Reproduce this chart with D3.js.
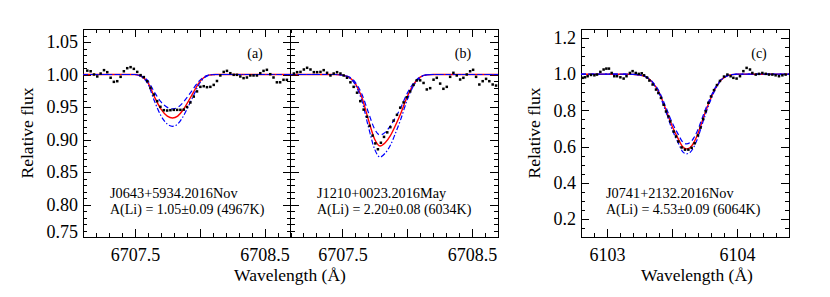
<!DOCTYPE html>
<html>
<head>
<meta charset="utf-8">
<script src="https://cdn.jsdelivr.net/npm/d3@7"></script>
<style>
  html, body { margin: 0; padding: 0; background: #fff; }
  svg { display: block; }
</style>
</head>
<body>
<div id="chart"></div>
<script>
// observed spectra [wavelength, flux]
var dotsA = [
  [6707.133, 1.006], [6707.159, 1.005], [6707.185, 1.000], [6707.210, 0.997], [6707.236, 1.0015],
  [6707.262, 1.0067], [6707.287, 1.0036], [6707.313, 0.995], [6707.338, 0.9887], [6707.364, 0.9897],
  [6707.390, 0.9964], [6707.415, 1.005], [6707.441, 1.0097], [6707.467, 1.0113], [6707.492, 1.0087],
  [6707.518, 1.004], [6707.544, 0.999], [6707.569, 0.996], [6707.595, 0.9897], [6707.620, 0.9795],
  [6707.646, 0.9692], [6707.672, 0.959], [6707.697, 0.9503], [6707.723, 0.9451], [6707.749, 0.9446],
  [6707.774, 0.9451], [6707.800, 0.9456], [6707.826, 0.9456], [6707.851, 0.9456], [6707.877, 0.946],
  [6707.902, 0.950], [6707.928, 0.957], [6707.954, 0.966], [6707.979, 0.974], [6708.005, 0.981],
  [6708.031, 0.982], [6708.056, 0.9805], [6708.082, 0.981], [6708.108, 0.984], [6708.133, 0.990],
  [6708.159, 0.9985], [6708.185, 1.004], [6708.210, 1.0056], [6708.236, 1.002], [6708.262, 0.9995],
  [6708.287, 0.9995], [6708.313, 0.997], [6708.338, 0.9944], [6708.364, 0.9954], [6708.390, 0.9985],
  [6708.415, 0.9985], [6708.441, 0.9985], [6708.467, 1.002], [6708.492, 1.0056], [6708.518, 1.0072],
  [6708.544, 1.0005], [6708.569, 0.9954], [6708.595, 0.988], [6708.620, 0.988], [6708.646, 0.9918],
  [6708.672, 0.9918]
];
var dotsB = [
  [6707.126, 1.0015], [6707.151, 1.0036], [6707.177, 1.004], [6707.203, 1.0077], [6707.228, 1.0103],
  [6707.254, 1.0077], [6707.280, 1.0036], [6707.305, 1.0036], [6707.331, 1.004], [6707.356, 1.0067],
  [6707.382, 1.0026], [6707.408, 0.9985], [6707.433, 1.0015], [6707.459, 1.0036], [6707.485, 1.0015],
  [6707.510, 0.9985], [6707.536, 0.995], [6707.562, 0.988], [6707.587, 0.981], [6707.613, 0.972],
  [6707.638, 0.959], [6707.664, 0.946], [6707.690, 0.935], [6707.710, 0.921], [6707.733, 0.906],
  [6707.754, 0.894], [6707.774, 0.885], [6707.797, 0.895], [6707.821, 0.904], [6707.846, 0.911],
  [6707.870, 0.919], [6707.895, 0.929], [6707.921, 0.938], [6707.946, 0.949], [6707.972, 0.957],
  [6707.997, 0.965], [6708.023, 0.974], [6708.049, 0.984], [6708.074, 0.991], [6708.100, 0.991],
  [6708.126, 0.987], [6708.151, 0.977], [6708.177, 0.979], [6708.203, 0.992], [6708.228, 0.9949],
  [6708.254, 0.986], [6708.279, 0.978], [6708.305, 0.981], [6708.331, 0.9964], [6708.356, 1.0026],
  [6708.382, 0.9985], [6708.408, 0.9923], [6708.433, 0.9949], [6708.459, 1.000], [6708.485, 1.005],
  [6708.508, 1.0072], [6708.531, 0.9964], [6708.556, 0.9846], [6708.582, 0.9897], [6708.608, 0.9933],
  [6708.633, 0.9897], [6708.659, 0.9846], [6708.685, 0.983]
];
var dotsC = [
  [6102.813, 0.980], [6102.831, 0.983], [6102.851, 0.989], [6102.877, 0.996], [6102.903, 0.994],
  [6102.923, 0.998], [6102.949, 1.013], [6102.974, 1.026], [6102.995, 1.031], [6103.015, 1.031],
  [6103.036, 1.007], [6103.056, 0.989], [6103.077, 0.989], [6103.103, 0.983], [6103.128, 0.976],
  [6103.150, 0.989], [6103.176, 1.007], [6103.197, 1.017], [6103.221, 1.007], [6103.244, 1.002],
  [6103.267, 1.005], [6103.285, 0.994], [6103.308, 0.982], [6103.326, 0.965], [6103.351, 0.943],
  [6103.377, 0.915], [6103.395, 0.896], [6103.415, 0.869], [6103.436, 0.831], [6103.454, 0.794],
  [6103.472, 0.767], [6103.487, 0.739], [6103.513, 0.683], [6103.531, 0.656], [6103.549, 0.628],
  [6103.574, 0.595], [6103.600, 0.583], [6103.626, 0.583], [6103.651, 0.593], [6103.674, 0.618],
  [6103.700, 0.662], [6103.720, 0.705], [6103.740, 0.752], [6103.760, 0.795], [6103.780, 0.842],
  [6103.800, 0.877], [6103.823, 0.912], [6103.846, 0.940], [6103.869, 0.963], [6103.900, 0.987],
  [6103.926, 0.998], [6103.951, 0.989], [6103.972, 0.980], [6103.997, 0.976], [6104.023, 0.989],
  [6104.049, 1.017], [6104.074, 1.035], [6104.100, 1.026], [6104.118, 1.007], [6104.144, 0.998],
  [6104.169, 1.002], [6104.195, 1.007], [6104.221, 1.002], [6104.246, 0.998], [6104.272, 0.998],
  [6104.297, 0.994], [6104.323, 0.989], [6104.349, 0.994], [6104.374, 0.998]
];

// synthetic fits: best (red), deeper (blue dash-dot), shallower (blue dashed)
var fitA = [
  [6707.10, 1.0], [6707.50, 1.0], [6707.55, 0.997], [6707.60, 0.988], [6707.65, 0.966],
  [6707.70, 0.947], [6707.75, 0.936], [6707.79, 0.933], [6707.83, 0.936], [6707.87, 0.945],
  [6707.91, 0.958], [6707.95, 0.972], [6707.99, 0.986], [6708.03, 0.995], [6708.07, 0.999],
  [6708.12, 1.0], [6708.70, 1.0]
];
var fitHighA = [
  [6707.10, 1.0], [6707.50, 1.0], [6707.55, 0.9964], [6707.60, 0.9857], [6707.65, 0.9595],
  [6707.70, 0.9369], [6707.75, 0.9238], [6707.79, 0.9203], [6707.83, 0.9238], [6707.87, 0.9346],
  [6707.91, 0.950], [6707.95, 0.9667], [6707.99, 0.9833], [6708.03, 0.994], [6708.07, 0.9988],
  [6708.12, 1.0], [6708.70, 1.0]
];
var fitLowA = [
  [6707.10, 1.0], [6707.50, 1.0], [6707.55, 0.9976], [6707.60, 0.9905], [6707.65, 0.9731],
  [6707.70, 0.9581], [6707.75, 0.9494], [6707.79, 0.9471], [6707.83, 0.9494], [6707.87, 0.9566],
  [6707.91, 0.9668], [6707.95, 0.9779], [6707.99, 0.9889], [6708.03, 0.996], [6708.07, 0.9992],
  [6708.12, 1.0], [6708.70, 1.0]
];
var fitB = [
  [6707.10, 1.0], [6707.45, 1.0], [6707.50, 0.999], [6707.55, 0.996], [6707.60, 0.986],
  [6707.65, 0.965], [6707.70, 0.931], [6707.75, 0.900], [6707.79, 0.890], [6707.83, 0.895],
  [6707.87, 0.906], [6707.91, 0.922], [6707.95, 0.940], [6708.00, 0.966], [6708.05, 0.985],
  [6708.10, 0.996], [6708.15, 0.9995], [6708.20, 1.0], [6708.70, 1.0]
];
var fitHighB = [
  [6707.10, 1.0], [6707.45, 1.0], [6707.50, 0.999], [6707.55, 0.9954], [6707.60, 0.984],
  [6707.65, 0.960], [6707.70, 0.920], [6707.75, 0.8845], [6707.79, 0.873], [6707.83, 0.879],
  [6707.87, 0.891], [6707.91, 0.910], [6707.95, 0.931], [6708.00, 0.961], [6708.05, 0.983],
  [6708.10, 0.995], [6708.15, 0.9995], [6708.20, 1.0], [6708.70, 1.0]
];
var fitLowB = [
  [6707.10, 1.0], [6707.45, 1.0], [6707.50, 0.999], [6707.55, 0.9966], [6707.60, 0.988],
  [6707.65, 0.970], [6707.70, 0.942], [6707.75, 0.9155], [6707.79, 0.907], [6707.83, 0.911],
  [6707.87, 0.921], [6707.91, 0.934], [6707.95, 0.949], [6708.00, 0.971], [6708.05, 0.987],
  [6708.10, 0.9966], [6708.15, 0.9996], [6708.20, 1.0], [6708.70, 1.0]
];
var fitC = [
  [6102.80, 1.0], [6103.15, 1.0], [6103.20, 0.999], [6103.25, 0.996], [6103.30, 0.985],
  [6103.35, 0.955], [6103.40, 0.900], [6103.45, 0.810], [6103.50, 0.715], [6103.55, 0.640],
  [6103.58, 0.600], [6103.61, 0.587], [6103.64, 0.595], [6103.67, 0.625], [6103.70, 0.672],
  [6103.73, 0.735], [6103.76, 0.797], [6103.80, 0.870], [6103.84, 0.930], [6103.88, 0.970],
  [6103.92, 0.990], [6103.96, 0.998], [6104.00, 1.0], [6104.40, 1.0]
];
var fitHighC = [
  [6102.80, 1.0], [6103.15, 1.0], [6103.20, 0.999], [6103.25, 0.9957], [6103.30, 0.984],
  [6103.35, 0.952], [6103.40, 0.8935], [6103.45, 0.7977], [6103.50, 0.6965], [6103.55, 0.6166],
  [6103.58, 0.574], [6103.61, 0.560], [6103.64, 0.5687], [6103.67, 0.6006], [6103.70, 0.6507],
  [6103.73, 0.7176], [6103.76, 0.7836], [6103.80, 0.8616], [6103.84, 0.9255], [6103.88, 0.968],
  [6103.92, 0.9894], [6103.96, 0.9979], [6104.00, 1.0], [6104.40, 1.0]
];
var fitLowC = [
  [6102.80, 1.0], [6103.15, 1.0], [6103.20, 0.9991], [6103.25, 0.9963], [6103.30, 0.986],
  [6103.35, 0.958], [6103.40, 0.9068], [6103.45, 0.8229], [6103.50, 0.7344], [6103.55, 0.6645],
  [6103.58, 0.6272], [6103.61, 0.615], [6103.64, 0.6226], [6103.67, 0.6505], [6103.70, 0.6943],
  [6103.73, 0.753], [6103.76, 0.8108], [6103.80, 0.8788], [6103.84, 0.9348], [6103.88, 0.972],
  [6103.92, 0.9907], [6103.96, 0.9981], [6104.00, 1.0], [6104.40, 1.0]
];

// axes
var liWaveDomain = [6707.1, 6708.7];
var liFluxDomain = [0.75, 1.07];
var cWaveDomain = [6102.8, 6104.4];
var cFluxDomain = [0.1, 1.25];
var liWaveMajor = [6707.5, 6708.0, 6708.5];
var liWaveLabels = [6707.5, 6708.5];
var liFluxLabels = [0.75, 0.80, 0.85, 0.90, 0.95, 1.00, 1.05];
var cWaveMajor = [6103, 6103.5, 6104];
var cWaveLabels = [6103, 6104];
var cFluxLabels = [0.2, 0.4, 0.6, 0.8, 1.0, 1.2];

var starNames = ['J0643+5934.2016Nov', 'J1210+0023.2016May', 'J0741+2132.2016Nov'];
var starAbund = [
  'A(Li) = 1.05\u00b10.09 (4967K)',
  'A(Li) = 2.20\u00b10.08 (6034K)',
  'A(Li) = 4.53\u00b10.09 (6064K)'
];
var panelTags = ['(a)', '(b)', '(c)'];

(function () {
  var width = 830;
  var height = 297;
  var top = 29;
  var bottom = 237;
  var font = "'Liberation Serif', 'Times New Roman', Times, serif";

  var svg = d3.select('#chart').append('svg')
    .attr('width', width)
    .attr('height', height);

  function steps(lo, hi, step) {
    return d3.range(Math.round(lo / step), Math.round(hi / step) + 1).map(function (k) {
      return +(k * step).toFixed(3);
    });
  }

  var panels = [
    { left: 83, right: 290.5, xd: liWaveDomain, yd: liFluxDomain, dots: dotsA, fit: fitA, hi: fitHighA, lo: fitLowA,
      xMajor: liWaveMajor, xLabels: liWaveLabels, xMinor: 0.1, yMajor: liFluxLabels, yMinor: 0.01,
      xFmt: d3.format('.1f'), yFmt: d3.format('.2f'), yLabels: true, textX: 110, tagX: 255 },
    { left: 290.5, right: 498, xd: liWaveDomain, yd: liFluxDomain, dots: dotsB, fit: fitB, hi: fitHighB, lo: fitLowB,
      xMajor: liWaveMajor, xLabels: liWaveLabels, xMinor: 0.1, yMajor: liFluxLabels, yMinor: 0.01,
      xFmt: d3.format('.1f'), yFmt: d3.format('.2f'), yLabels: false, textX: 317, tagX: 463 },
    { left: 581, right: 789, xd: cWaveDomain, yd: cFluxDomain, dots: dotsC, fit: fitC, hi: fitHighC, lo: fitLowC,
      xMajor: cWaveMajor, xLabels: cWaveLabels, xMinor: 0.1, yMajor: cFluxLabels, yMinor: 0.05,
      xFmt: d3.format('d'), yFmt: d3.format('.1f'), yLabels: true, textX: 606, tagX: 759 }
  ];

  function styleText(sel, size) {
    sel.attr('font-family', null).attr('font-size', null);
    sel.selectAll('text')
      .style('font-family', font)
      .style('font-size', size + 'px')
      .attr('fill', '#000');
  }

  function drawPanel(p, i) {
    var x = d3.scaleLinear().domain(p.xd).range([p.left, p.right]);
    var y = d3.scaleLinear().domain(p.yd).range([bottom, top]);
    var g = svg.append('g').attr('class', 'panel');

    var clipId = 'clip' + i;
    svg.append('clipPath').attr('id', clipId)
      .append('rect')
      .attr('x', p.left).attr('y', top)
      .attr('width', p.right - p.left).attr('height', bottom - top);

    var xMinor = steps(p.xd[0], p.xd[1], p.xMinor).filter(function (v) { return v >= p.xd[0] && v <= p.xd[1]; });
    var yMinor = steps(p.yd[0], p.yd[1], p.yMinor).filter(function (v) { return v >= p.yd[0] && v <= p.yd[1]; });

    function axis(gen, pos, scale, values, size, fmt, pad) {
      var a = g.append('g')
        .attr('transform', pos)
        .call(gen(scale).tickValues(values).tickSize(size).tickPadding(pad || 3).tickFormat(fmt || ''));
      a.select('.domain').remove();
      a.selectAll('line').attr('stroke', '#000').attr('shape-rendering', 'crispEdges');
      return a;
    }

    // minor and major ticks on all four sides, pointing in
    axis(d3.axisBottom, 'translate(0,' + bottom + ')', x, xMinor, -4);
    axis(d3.axisTop, 'translate(0,' + top + ')', x, xMinor, -4);
    axis(d3.axisTop, 'translate(0,' + top + ')', x, p.xMajor, -8);
    axis(d3.axisLeft, 'translate(' + p.left + ',0)', y, yMinor, -4);
    axis(d3.axisRight, 'translate(' + p.right + ',0)', y, yMinor, -4);
    axis(d3.axisRight, 'translate(' + p.right + ',0)', y, p.yMajor, -8);

    var xb = axis(d3.axisBottom, 'translate(0,' + bottom + ')', x, p.xMajor, -8, function (d) {
      return p.xLabels.indexOf(d) >= 0 ? p.xFmt(d) : '';
    }, 11.5);
    styleText(xb, 18);

    var yl = axis(d3.axisLeft, 'translate(' + p.left + ',0)', y, p.yMajor, -8, function (d) {
      return p.yLabels ? p.yFmt(d) : '';
    }, 5);
    styleText(yl, 18);
    yl.selectAll('text').filter(function (d) { return d === p.yd[0]; }).attr('dy', '0.03em');

    g.append('rect')
      .attr('x', p.left).attr('y', top)
      .attr('width', p.right - p.left).attr('height', bottom - top)
      .attr('fill', 'none').attr('stroke', '#000').attr('stroke-width', 1)
      .attr('shape-rendering', 'crispEdges');

    var line = d3.line()
      .x(function (d) { return x(d[0]); })
      .y(function (d) { return y(d[1]); })
      .curve(d3.curveMonotoneX);

    var plot = g.append('g').attr('clip-path', 'url(#' + clipId + ')');

    plot.append('path').datum(p.fit)
      .attr('d', line).attr('fill', 'none')
      .attr('stroke', '#ff0000').attr('stroke-width', 1.4);

    plot.append('path').datum(p.lo)
      .attr('d', line).attr('fill', 'none')
      .attr('stroke', '#0000ff').attr('stroke-width', 1.2)
      .attr('stroke-dasharray', '5,3');

    plot.append('path').datum(p.hi)
      .attr('d', line).attr('fill', 'none')
      .attr('stroke', '#0000ff').attr('stroke-width', 1.2)
      .attr('stroke-dasharray', '5,2,1.5,2');

    plot.selectAll('rect.dot').data(p.dots).enter().append('rect')
      .attr('class', 'dot')
      .attr('x', function (d) { return x(d[0]) - 1.25; })
      .attr('y', function (d) { return y(d[1]) - 1.25; })
      .attr('width', 2.5).attr('height', 2.5)
      .attr('fill', '#000');

    g.append('text')
      .attr('x', p.tagX).attr('y', 57.5)
      .attr('text-anchor', 'middle')
      .style('font-family', font).style('font-size', '14px')
      .text(panelTags[i]);

    g.append('text')
      .attr('x', p.textX).attr('y', 197.5)
      .style('font-family', font).style('font-size', '14.3px')
      .text(starNames[i]);

    g.append('text')
      .attr('x', p.textX).attr('y', 214)
      .style('font-family', font).style('font-size', '14px')
      .text(starAbund[i]);
  }

  panels.forEach(drawPanel);

  function axisTitle(txt, xPos, yPos, rotate) {
    svg.append('text')
      .attr('transform', 'translate(' + xPos + ',' + yPos + ')' + (rotate ? ' rotate(-90)' : ''))
      .attr('text-anchor', 'middle')
      .style('font-family', font)
      .style('font-size', '17.5px')
      .text(txt);
  }

  axisTitle('Relative flux', 33, 133, true);
  axisTitle('Relative flux', 540, 133, true);
  axisTitle('Wavelength (\u00c5)', 290, 281, false);
  axisTitle('Wavelength (\u00c5)', 697, 281, false);
})();
</script>
</body>
</html>
